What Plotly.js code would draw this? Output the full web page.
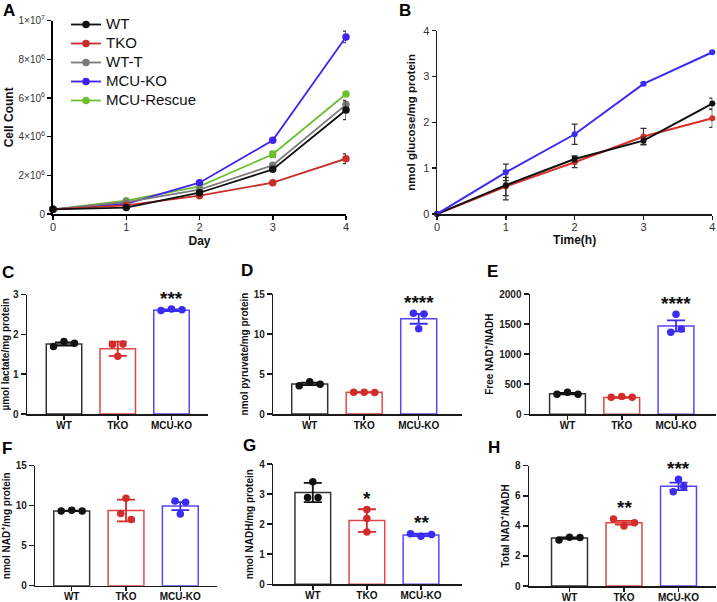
<!DOCTYPE html>
<html><head><meta charset="utf-8">
<script src="https://cdn.plot.ly/plotly-3.0.1.min.js"></script>
<style>html,body{margin:0;padding:0;background:#fff}#chart{width:717px;height:602px}</style>
</head><body><div id="chart"></div>
<script>
// ---------- Panel A: cell count ----------
const days = [0, 1, 2, 3, 4];
const countWT      = [0.24e6, 0.33e6, 1.10e6, 2.31e6, 5.38e6];
const countWTErr   = [0.02e6, 0.03e6, 0.06e6, 0.08e6, 0.50e6];
const countTKO     = [0.24e6, 0.45e6, 0.95e6, 1.62e6, 2.86e6];
const countTKOErr  = [0.02e6, 0.03e6, 0.05e6, 0.06e6, 0.25e6];
const countWTT     = [0.24e6, 0.62e6, 1.26e6, 2.52e6, 5.66e6];
const countWTTErr  = [0.02e6, 0.03e6, 0.06e6, 0.08e6, 0.20e6];
const countMCU     = [0.24e6, 0.53e6, 1.62e6, 3.81e6, 9.16e6];
const countMCUErr  = [0.02e6, 0.03e6, 0.05e6, 0.06e6, 0.30e6];
const countRes     = [0.24e6, 0.69e6, 1.43e6, 3.09e6, 6.21e6];
const countResErr  = [0.02e6, 0.03e6, 0.05e6, 0.15e6, 0.05e6];
const countTickVals = [0, 2e6, 4e6, 6e6, 8e6, 1e7];
const countTickText = ['0', '2×10<sup>6</sup>', '4×10<sup>6</sup>', '6×10<sup>6</sup>', '8×10<sup>6</sup>', '1×10<sup>7</sup>'];

// ---------- Panel B: glucose ----------
const hours = [0, 1, 2, 3, 4];
const glcTKO    = [0, 0.60, 1.13, 1.69, 2.09];
const glcTKOErr = [0, 0.20, 0.12, 0.18, 0.20];
const glcWT     = [0, 0.63, 1.20, 1.60, 2.41];
const glcWTErr  = [0, 0.32, 0.07, 0.08, 0.12];
const glcMCU    = [0, 0.91, 1.74, 2.84, 3.53];
const glcMCUErr = [0, 0.18, 0.22, 0.03, 0.03];

// ---------- Bar panels ----------
const groups = ['WT', 'TKO', 'MCU-KO'];

const lactateMean = [1.76, 1.64, 2.61];
const lactateErr  = [0.04, 0.18, 0.02];
const lactateWT   = [1.70, 1.82, 1.78];
const lactateTKO  = [1.75, 1.45, 1.76];
const lactateMCU  = [2.60, 2.64, 2.62];
const lactateStars = ['', '', '***'];

const pyruvateMean = [3.76, 2.71, 11.9];
const pyruvateErr  = [0.15, 0.03, 0.62];
const pyruvateWT   = [3.54, 4.04, 3.71];
const pyruvateTKO  = [2.71, 2.73, 2.70];
const pyruvateMCU  = [12.58, 10.67, 12.50];
const pyruvateStars = ['', '', '****'];

const freeRatioMean = [343, 280, 1470];
const freeRatioErr  = [11, 6, 90];
const freeRatioWT   = [332, 366, 332];
const freeRatioTKO  = [283, 294, 283];
const freeRatioMCU  = [1363, 1662, 1418];
const freeRatioStars = ['', '', '****'];

const nadMean = [9.35, 9.40, 9.95];
const nadErr  = [0.04, 1.35, 0.50];
const nadWT   = [9.33, 9.42, 9.33];
const nadTKO  = [10.92, 9.04, 8.29];
const nadMCU  = [10.58, 8.96, 10.42];
const nadStars = ['', '', ''];

const nadhMean = [3.05, 2.12, 1.64];
const nadhErr  = [0.32, 0.375, 0.04];
const nadhWT   = [2.89, 3.41, 2.89];
const nadhTKO  = [2.49, 2.19, 1.74];
const nadhMCU  = [1.68, 1.60, 1.66];
const nadhStars = ['', '*', '**'];

const totalRatioMean = [3.19, 4.21, 6.63];
const totalRatioErr  = [0.05, 0.12, 0.25];
const totalRatioWT   = [3.06, 3.24, 3.22];
const totalRatioTKO  = [4.46, 3.99, 4.21];
const totalRatioMCU  = [6.27, 7.10, 6.61];
const totalRatioStars = ['', '**', '***'];

// ---------- styling / layout ----------
const W = 717, H = 602;
const FONT = 'Liberation Sans, Arial, Helvetica, sans-serif';
const xd = (a, b) => [a / W, b / W];
const yd = (top, bottom) => [1 - bottom / H, 1 - top / H];

const colA = {WT: '#111111', TKO: '#c62f2b', WTT: '#7a7a7a', MCU: '#3f22f0', RES: '#6cbf2f'};
const ptCol = ['#111111', '#d42b2b', '#3b2cf2'];
const barLine = ['#333333', '#e04848', '#5546ff'];

const traces = [];
const layout = {
  width: W, height: H,
  margin: {l: 0, r: 0, t: 0, b: 0},
  paper_bgcolor: '#fff', plot_bgcolor: '#fff',
  font: {family: FONT, color: '#222'},
  showlegend: true,
  legend: {x: 66 / W, y: 1 - 10 / H, xanchor: 'left', yanchor: 'top', traceorder: 'reversed',
           font: {size: 11, family: FONT, color: '#111'}, bgcolor: 'rgba(0,0,0,0)', borderwidth: 0},
  annotations: []
};

function axBase(extra) {
  return Object.assign({showgrid: false, zeroline: false, showline: true, linecolor: '#1a1a1a', linewidth: 1.5,
    ticks: 'outside', ticklen: 4, tickwidth: 1.5, tickcolor: '#1a1a1a', fixedrange: true, automargin: false}, extra);
}

// Panel A
const aSeries = [
  {name: 'MCU-Rescue', y: countRes, e: countResErr, c: colA.RES},
  {name: 'MCU-KO', y: countMCU, e: countMCUErr, c: colA.MCU},
  {name: 'WT-T', y: countWTT, e: countWTTErr, c: colA.WTT},
  {name: 'TKO', y: countTKO, e: countTKOErr, c: colA.TKO},
  {name: 'WT', y: countWT, e: countWTErr, c: colA.WT}
];
aSeries.forEach(s => traces.push({
  type: 'scatter', mode: 'lines+markers', name: '<span style="font-size:15px">' + s.name + '</span>', x: days, y: s.y, xaxis: 'x', yaxis: 'y',
  line: {color: s.c, width: 1.8}, marker: {color: s.c, size: 7.5},
  error_y: {type: 'data', array: s.e, visible: true, color: '#333', thickness: 1.2, width: 3},
  cliponaxis: false
}));
layout.xaxis = axBase({domain: xd(53, 346), anchor: 'y', range: [0, 4], tickvals: days, linewidth: 2, linecolor: '#000', tickcolor: '#000',
  ticklabelstandoff: -2,
  tickfont: {size: 11, color: '#333'}, title: {text: 'Day', font: {size: 12, weight: 'bold', color: '#111'}, standoff: 4}});
layout.yaxis = axBase({domain: yd(20.7, 214), anchor: 'x', range: [0, 1e7], tickvals: countTickVals, ticktext: countTickText, linewidth: 2, linecolor: '#000', tickcolor: '#000',
  tickfont: {size: 10, color: '#333'}, title: {text: 'Cell Count', font: {size: 12, weight: 'bold', color: '#111'}, standoff: 2}});

// Panel B
const bSeries = [
  {name: 'TKO', y: glcTKO, e: glcTKOErr, c: '#d8312c'},
  {name: 'WT', y: glcWT, e: glcWTErr, c: '#111111'},
  {name: 'MCU-KO', y: glcMCU, e: glcMCUErr, c: '#3c2cf2'}
];
bSeries.forEach(s => traces.push({
  type: 'scatter', mode: 'lines+markers', name: s.name, showlegend: false, x: hours, y: s.y, xaxis: 'x2', yaxis: 'y2',
  line: {color: s.c, width: 2}, marker: {color: s.c, size: 6},
  error_y: {type: 'data', array: s.e, visible: true, color: '#333', thickness: 1.2, width: 3},
  cliponaxis: false
}));
layout.xaxis2 = axBase({domain: xd(437, 712.3), anchor: 'y2', range: [0, 4], tickvals: hours,
  ticklabelstandoff: -2,
  tickfont: {size: 11, color: '#333'}, title: {text: 'Time(h)', font: {size: 12, weight: 'bold', color: '#111'}, standoff: 4}});
layout.yaxis2 = axBase({domain: yd(30.7, 214), anchor: 'x2', range: [0, 4], dtick: 1,
  tickfont: {size: 11, color: '#333'}, title: {text: 'nmol glucose/mg protein', font: {size: 11.5, weight: 'bold', color: '#111'}, standoff: 5}});

// Bar panels
const barPanels = [
  {n: 3, title: 'µmol lactate/mg protein', means: lactateMean, errs: lactateErr, pts: [lactateWT, lactateTKO, lactateMCU], stars: lactateStars,
   yr: [0, 3], dtick: 1, box: [27, 208.3, 294.7, 414], cat: [64, 171.5]},
  {n: 4, title: 'nmol pyruvate/mg protein', means: pyruvateMean, errs: pyruvateErr, pts: [pyruvateWT, pyruvateTKO, pyruvateMCU], stars: pyruvateStars,
   yr: [0, 15], dtick: 5, box: [273.3, 461.7, 294, 414], cat: [309.7, 418.7]},
  {n: 5, title: 'Free NAD<sup>+</sup>/NADH', means: freeRatioMean, errs: freeRatioErr, pts: [freeRatioWT, freeRatioTKO, freeRatioMCU], stars: freeRatioStars,
   yr: [0, 2000], dtick: 500, box: [530, 716, 294, 414.3], cat: [567.5, 676]},
  {n: 6, title: 'nmol NAD<sup>+</sup>/mg protein', means: nadMean, errs: nadErr, pts: [nadWT, nadTKO, nadMCU], stars: nadStars,
   yr: [0, 15], dtick: 5, box: [35.3, 216.7, 465.7, 585.7], cat: [71.7, 180.3]},
  {n: 7, title: 'nmol NADH/mg protein', means: nadhMean, errs: nadhErr, pts: [nadhWT, nadhTKO, nadhMCU], stars: nadhStars,
   yr: [0, 4], dtick: 1, box: [273.3, 461.7, 464, 584.3], cat: [312.8, 421]},
  {n: 8, title: 'Total NAD<sup>+</sup>/NADH', means: totalRatioMean, errs: totalRatioErr, pts: [totalRatioWT, totalRatioTKO, totalRatioMCU], stars: totalRatioStars,
   yr: [0, 8], dtick: 2, box: [529, 716, 465.7, 586], cat: [569.5, 678.5]}
];

function swarmOffsets(vals, pxPerUnit, stepPx) {
  const n = vals.length, parent = vals.map((_, i) => i);
  const find = i => parent[i] === i ? i : (parent[i] = find(parent[i]));
  for (let i = 0; i < n; i++) for (let j = i + 1; j < n; j++)
    if (Math.abs(vals[i] - vals[j]) * pxPerUnit < 7) parent[find(i)] = find(j);
  const clusters = {};
  vals.forEach((_, i) => { const r = find(i); (clusters[r] = clusters[r] || []).push(i); });
  const off = new Array(n).fill(0);
  Object.values(clusters).forEach(m => m.forEach((idx, k) => { off[idx] = (k - (m.length - 1) / 2) * stepPx; }));
  return off;
}

barPanels.forEach(p => {
  const xa = 'x' + p.n, ya = 'y' + p.n;
  const [x0, x1, yTop, yBot] = p.box;
  const sp = (p.cat[1] - p.cat[0]) / 2;
  const pxPerUnit = (yBot - yTop) / (p.yr[1] - p.yr[0]);
  traces.push({type: 'bar', x: [0, 1, 2], y: p.means, xaxis: xa, yaxis: ya, width: 0.66, showlegend: false,
    marker: {color: 'rgba(255,255,255,1)', line: {color: barLine, width: 1.5}}});
  p.means.forEach((m, i) => {
    traces.push({type: 'scatter', mode: 'markers', x: [i], y: [m], xaxis: xa, yaxis: ya, showlegend: false,
      marker: {size: 1, opacity: 0},
      error_y: {type: 'data', array: [p.errs[i]], visible: true, color: ptCol[i], thickness: 1.8, width: 9}, cliponaxis: false});
    const off = swarmOffsets(p.pts[i], pxPerUnit, 10.5);
    traces.push({type: 'scatter', mode: 'markers', x: p.pts[i].map((v, k) => i + off[k] / sp), y: p.pts[i], xaxis: xa, yaxis: ya,
      showlegend: false, marker: {color: ptCol[i], size: 7.5}, cliponaxis: false});
    if (p.stars[i]) {
      const top = Math.max(Math.max(...p.pts[i]), m + p.errs[i]);
      layout.annotations.push({xref: xa, yref: ya, x: i, y: top, text: p.stars[i], showarrow: false,
        yanchor: 'middle', yshift: 11, font: {size: 19, weight: 'bold', color: '#111', family: FONT}});
    }
  });
  layout['xaxis' + p.n] = axBase({domain: xd(x0, x1), anchor: ya,
    range: [(x0 - p.cat[0]) / sp, 2 + (x1 - p.cat[1]) / sp], tickvals: [0, 1, 2], ticktext: groups,
    tickfont: {size: 10, weight: 'bold', color: '#111'}, ticklen: 4, ticklabelstandoff: -3});
  layout['yaxis' + p.n] = axBase({domain: yd(yTop, yBot), anchor: xa, range: p.yr, dtick: p.dtick,
    tickfont: {size: 10, weight: 'bold', color: '#222'}, ticklen: 5,
    title: {text: p.title, font: {size: 10, weight: 'bold', color: '#111'}, standoff: 3}});
});

// Panel letters (x centre, cap-top y in px)
const letters = [['A', 9, 2], ['B', 405, 2], ['C', 7.5, 264], ['D', 247, 262], ['E', 492.5, 263], ['F', 7, 439.5], ['G', 249.5, 436.5], ['H', 493.5, 439]];
letters.forEach(([t, x, y]) => layout.annotations.push({xref: 'paper', yref: 'paper', x: x / W, y: 1 - Math.max(0, y - 2) / H, text: t, showarrow: false,
  xanchor: 'center', yanchor: 'top', borderpad: 0, font: {size: 17, weight: 'bold', color: '#000', family: FONT}}));

Plotly.newPlot('chart', traces, layout, {staticPlot: true, displayModeBar: false});
</script></body></html>
